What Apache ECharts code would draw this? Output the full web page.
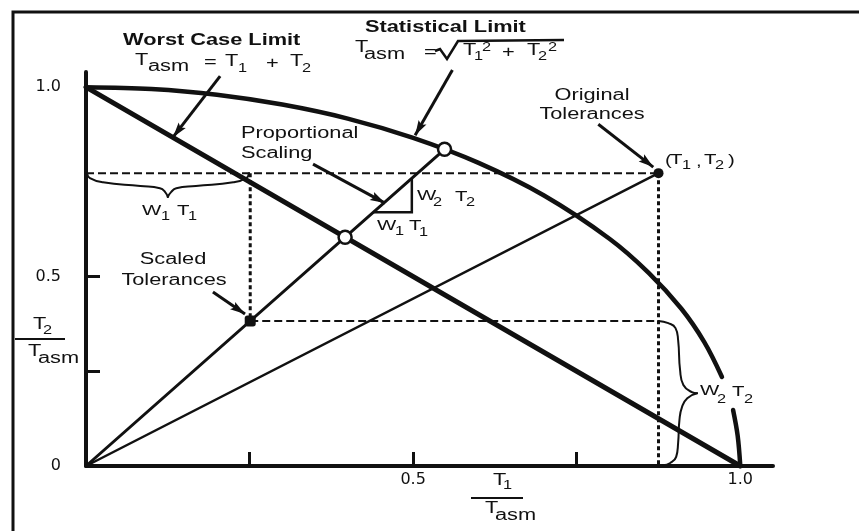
<!DOCTYPE html>
<html><head><meta charset="utf-8">
<script src="https://cdn.jsdelivr.net/npm/echarts@6/dist/echarts.min.js"></script>
<style>html,body{margin:0;padding:0;background:#fff}#c{width:859px;height:531px}</style>
</head><body><div id="c"></div>
<script>
// ---------- data ----------
const xTickValues = [0.25, 0.5, 0.75];
const yTickValues = [0.25, 0.5];
const xTickLabels = [0.5, 1.0];
const yTickLabels = [0, 0.5, 1.0];

const worstCaseX = [0, 1];
const worstCaseY = [1, 0];
const statLimitX = [0, 0.1, 0.2, 0.3, 0.4, 0.5, 0.6, 0.7, 0.8, 0.86, 0.91, 0.945, 0.972];
const statLimitY = [1.0, 0.995, 0.98, 0.954, 0.917, 0.866, 0.8, 0.714, 0.6, 0.51, 0.415, 0.327, 0.235];
const statTailX = [0.989, 0.996, 1.0];
const statTailY = [0.148, 0.08, 0.0];

const originalTol = [0.875, 0.773];
const scaledTol = [0.251, 0.383];
const worstCaseHit = [0.396, 0.604];
const statLimitHit = [0.548, 0.836];

const triangleX = [0.439, 0.498, 0.498];
const triangleY = [0.670, 0.670, 0.758];

const braceW1LeftX = [0.0015, 0.006, 0.026, 0.083, 0.113, 0.121, 0.125];
const braceW1LeftY = [0.773, 0.760, 0.749, 0.739, 0.733, 0.723, 0.710];
const braceW1RightX = [0.125, 0.130, 0.138, 0.168, 0.225, 0.245, 0.249];
const braceW1RightY = [0.710, 0.723, 0.733, 0.739, 0.749, 0.760, 0.773];

const braceW2TopX = [0.875, 0.890, 0.901, 0.905, 0.908, 0.913, 0.926, 0.934];
const braceW2TopY = [0.383, 0.377, 0.364, 0.332, 0.253, 0.214, 0.195, 0.192];
const braceW2BotX = [0.934, 0.919, 0.911, 0.907, 0.905, 0.902, 0.893, 0.882];
const braceW2BotY = [0.192, 0.179, 0.156, 0.121, 0.061, 0.024, 0.008, 0.002];

const arrowFromX = [0.205, 0.560, 0.347, 0.194, 0.783];
const arrowFromY = [1.029, 1.045, 0.797, 0.459, 0.902];
const arrowToX = [0.133, 0.503, 0.457, 0.243, 0.867];
const arrowToY = [0.868, 0.873, 0.694, 0.401, 0.789];

// ---------- helpers ----------
const zip = (xs, ys) => xs.map((x, i) => [x, ys[i]]);
const INK = '#111';
const FONT = '"Liberation Sans", Arial, sans-serif';
const SX = 1.36;

function lineSeries(data, width, extra) {
  return Object.assign({
    type: 'line', data: data, symbol: 'none', silent: true, clip: false,
    animation: false, z: 3,
    lineStyle: { color: INK, width: width, type: 'solid', cap: 'round', join: 'round' }
  }, extra || {});
}
function dashed(data, width, dash) {
  return lineSeries(data, width, { lineStyle: { color: INK, width: width, type: dash, cap: 'butt' } });
}

function txt(s, x, y, size, opts) {
  opts = opts || {};
  return {
    type: 'text', x: x, y: y, scaleX: SX, z: 20, silent: true,
    style: {
      text: s, fill: INK, fontSize: size, fontFamily: FONT,
      fontWeight: opts.bold ? 'bold' : 'normal',
      align: opts.align || 'left', verticalAlign: 'middle'
    }
  };
}
function pl(points, width) {
  return { type: 'polyline', z: 20, silent: true, shape: { points: points },
    style: { stroke: INK, lineWidth: width, fill: null, lineJoin: 'miter' } };
}

const texts = [
  txt('Worst Case Limit', 123, 41, 16, { bold: true }),
  txt('T', 135, 61, 16), txt('asm', 148, 67, 16), txt('=', 204, 63, 16),
  txt('T', 225, 62, 16), txt('1', 238, 69, 12), txt('+', 266, 64, 16),
  txt('T', 290, 62, 16), txt('2', 302, 69, 12),

  txt('Statistical Limit', 365, 28, 16, { bold: true }),
  txt('T', 355, 48, 16), txt('asm', 364, 55, 16), txt('=', 424, 53, 16),
  txt('T', 463, 51, 16), txt('1', 474, 57, 12), txt('2', 482, 48, 12),
  txt('+', 502, 53, 16),
  txt('T', 527, 51, 16), txt('2', 538, 57, 12), txt('2', 548, 48, 12),

  txt('Proportional', 241, 134, 16), txt('Scaling', 241, 154, 16),

  txt('W', 417, 196, 15), txt('2', 433, 203, 12), txt('T', 455, 197, 15), txt('2', 466, 203, 12),
  txt('W', 377, 226, 15), txt('1', 395, 232, 12), txt('T', 409, 226, 15), txt('1', 419, 233, 12),

  txt('W', 142, 211, 15), txt('1', 161, 217, 12), txt('T', 177, 211, 15), txt('1', 188, 217, 12),

  txt('Scaled', 173, 260, 16, { align: 'center' }),
  txt('Tolerances', 174, 281, 16, { align: 'center' }),
  txt('Original', 592, 96, 16, { align: 'center' }),
  txt('Tolerances', 592, 115, 16, { align: 'center' }),

  txt('(', 665, 161, 15), txt('T', 670, 160, 15), txt('1', 682, 166, 12), txt(',', 696, 162, 15),
  txt('T', 704, 160, 15), txt('2', 715, 166, 12), txt(')', 728, 161, 15),

  txt('W', 700, 391, 15), txt('2', 717, 400, 12), txt('T', 732, 392, 15), txt('2', 744, 400, 12),

  txt('T', 33, 325, 16), txt('2', 43, 331, 12),
  txt('T', 28, 352, 16), txt('asm', 38, 359, 16),

  txt('T', 493, 481, 16), txt('1', 503, 486, 12),
  txt('T', 485, 509, 16), txt('asm', 495, 516, 16)
];
const shapes = [
  pl([[13, 531], [13, 12], [859, 12]], 3),
  pl([[15, 339], [65, 339]], 2),
  pl([[471, 498], [523, 498]], 2),
  pl([[435, 51], [440, 49], [447, 59], [458, 41], [564, 40]], 2.5)
];

const labelFmt = v => (v === 0 ? '0' : v.toFixed(1));
const axisCommon = {
  type: 'value',
  splitLine: { show: false },
  axisLine: { show: true, onZero: false, lineStyle: { color: INK, width: 4 } },
};

const arrowHead = 'path://M5,-16 M5,0 L10,16 L5,13 L0,16 Z';

const option = {
  backgroundColor: '#fff',
  animation: false,
  grid: { left: 86, right: 86, top: 72, bottom: 65, containLabel: false },
  xAxis: Object.assign({}, axisCommon, {
    min: 0, max: 1.05,
    axisTick: { show: true, inside: true, length: 14, customValues: xTickValues,
      lineStyle: { color: INK, width: 3 } },
    axisLabel: { show: true, customValues: xTickLabels, formatter: labelFmt, margin: 6,
      fontSize: 16, color: INK, fontFamily: '"DejaVu Sans", sans-serif' }
  }),
  yAxis: Object.assign({}, axisCommon, {
    min: 0, max: 1.04,
    axisTick: { show: true, inside: true, length: 14, customValues: yTickValues,
      lineStyle: { color: INK, width: 3 } },
    axisLabel: { show: true, customValues: yTickLabels, formatter: labelFmt, margin: 25,
      fontSize: 16, color: INK, fontFamily: '"DejaVu Sans", sans-serif' }
  }),
  series: [
    lineSeries(zip(worstCaseX, worstCaseY), 5),
    lineSeries(zip(statLimitX, statLimitY), 4.5, { smooth: 0.35 }),
    lineSeries(zip(statTailX, statTailY), 4.5, { smooth: 0.35 }),
    lineSeries([[0, 0], originalTol], 2.5),
    lineSeries([[0, 0], statLimitHit], 3),
    dashed([[0, originalTol[1]], originalTol], 2, [8, 4]),
    dashed([originalTol, [originalTol[0], 0]], 3, [4, 3]),
    dashed([[scaledTol[0], originalTol[1]], scaledTol], 3, [4, 3]),
    dashed([scaledTol, [originalTol[0], scaledTol[1]]], 2, [8, 4]),
    lineSeries(zip(triangleX, triangleY), 2.5, { lineStyle: { color: INK, width: 2.5, join: 'miter' } }),
    lineSeries(zip(braceW1LeftX, braceW1LeftY), 2, { smooth: 0.5 }),
    lineSeries(zip(braceW1RightX, braceW1RightY), 2, { smooth: 0.5 }),
    lineSeries(zip(braceW2TopX, braceW2TopY), 2, { smooth: 0.5 }),
    lineSeries(zip(braceW2BotX, braceW2BotY), 2, { smooth: 0.5 }),
    {
      type: 'lines', coordinateSystem: 'cartesian2d', silent: true, clip: false, z: 4,
      animation: false,
      symbol: ['none', arrowHead], symbolSize: [0, [9, 30]],
      lineStyle: { color: INK, width: 3, opacity: 1, curveness: 0 },
      data: arrowFromX.map((x, i) => ({ coords: [[x, arrowFromY[i]], [arrowToX[i], arrowToY[i]]] }))
    },
    {
      type: 'scatter', silent: true, z: 6, animation: false, clip: false,
      data: [
        { value: originalTol, symbol: 'circle', symbolSize: 10 },
        { value: scaledTol, symbol: 'roundRect', symbolSize: 11 }
      ],
      itemStyle: { color: INK, opacity: 1 }
    },
    {
      type: 'scatter', silent: true, z: 6, animation: false, clip: false,
      data: [worstCaseHit, statLimitHit], symbol: 'circle', symbolSize: 13,
      itemStyle: { color: '#fff', borderColor: INK, borderWidth: 2.5, opacity: 1 }
    }
  ],
  graphic: { elements: shapes.concat(texts) }
};

const chart = echarts.init(document.getElementById('c'), null, { renderer: 'canvas' });
chart.setOption(option);
</script>
</body></html>
